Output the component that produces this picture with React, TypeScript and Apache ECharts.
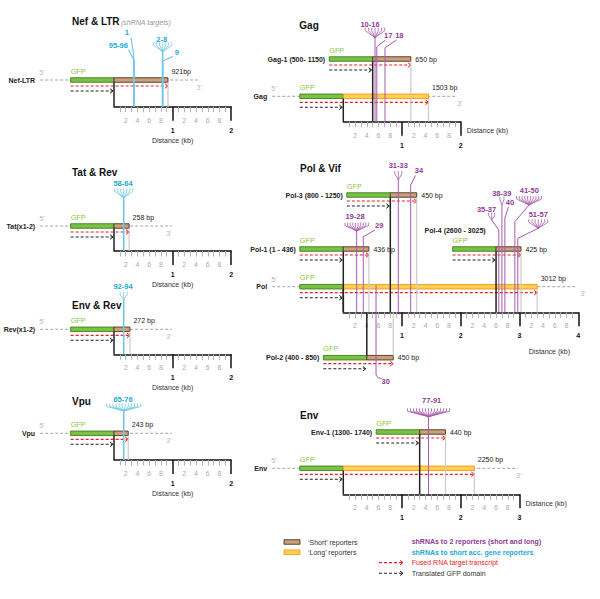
import React, { useEffect, useRef } from "react";
import * as echarts from "echarts";

const FONT = '"Liberation Sans", Arial, Helvetica, sans-serif';

// ---------------- data ----------------
const panelTitles = ["Nef & LTR", "Tat & Rev", "Env & Rev", "Vpu", "Gag", "Pol & Vif", "Env"];
const panelKbMax = [2, 2, 2, 2, 2, 4, 3];

const reporterNames = ["Nef-LTR", "Tat(x1-2)", "Rev(x1-2)", "Vpu", "Gag-1 (500- 1150)", "Gag", "Pol-3 (800 - 1250)", "Pol-1 (1 - 436)", "Pol-4 (2600 - 3025)", "Pol", "Pol-2 (400 - 850)", "Env-1 (1300- 1740)", "Env"];
const reporterPanel = [0, 1, 2, 3, 4, 4, 5, 5, 5, 5, 5, 6, 6];
const reporterStartKb = [0, 0, 0, 0, 0.5, 0, 0.8, 0, 2.6, 0, 0.4, 1.3, 0];
const reporterEndKb = [0.921, 0.258, 0.272, 0.243, 1.15, 1.45, 1.25, 0.436, 3.025, 3.3, 0.85, 1.74, 2.23];
const reporterBpLabels = ["921bp", "258 bp", "272 bp", "243 bp", "650 bp", "1503 bp", "450 bp", "436 bp", "425 bp", "3012 bp", "450 bp", "440 bp", "2250 bp"];
const reporterKinds = ["short", "short", "short", "short", "short", "long", "short", "short", "short", "long", "short", "short", "long"];
const gfpLengthKb = 0.74;

const shrnaLabels = ["1", "95-96", "2-8", "9", "58-64", "92-94", "65-76", "10-16", "17", "18", "31-33", "34", "19-28", "29", "30", "35-37", "38-39", "40", "41-50", "51-57", "77-91"];
const shrnaPanel = [0, 0, 0, 0, 1, 2, 3, 4, 4, 4, 5, 5, 5, 5, 5, 5, 5, 5, 5, 5, 6];
const shrnaPosKb = [0.34, 0.34, 0.83, 0.83, 0.166, 0.166, 0.166, 0.54, 0.57, 0.71, 0.936, 1.147, 0.228, 0.34, 0.557, 2.647, 2.7, 2.75, 2.92, 2.97, 1.45];

const legendSwatchLabels = ["\u2018Short\u2019 reporters", "\u2018Long\u2019 reporters"];
const legendTextLabels = ["shRNAs to 2 reporters (short and long)", "shRNAs to short acc. gene reporters", "Fused RNA target transcript", "Translated GFP domain"];
const axisName = "Distance (kb)";
const subtitle = "(shRNA targets)";

// ---------------- layout ----------------
const panelX0 = [114, 114, 114, 114, 343.3, 343.3, 343.3];
const panelPxPerKb = [58.6, 58.6, 58.6, 58.6, 58.75, 58.75, 58.75];
const panelRulerY = [106.7, 251, 354.3, 460, 121.7, 312.3, 494.3];
const panelTitlePos = [[72, 21], [72, 172.7], [72, 305.3], [72, 401], [299.3, 25], [300, 168.3], [300, 415]];
// where the "Distance (kb)" text sits for the right column: [dx from axis end, dy below ruler, align]
const panelAxisNamePos: any[] = [null, null, null, null, [6, 8.5, "left"], [-8.3, 38.7, "right"], [6, 9, "left"]];
const GRID_H = 100;
// row offset above ruler (px)
const rowUp = [26.7, 25, 25, 26.7, 62.7, 25.4, 117.3, 63.3, 63.3, 25.6, -45.4, 62.3, 26];
// backbone: [fromKb, toKb, 3' label dx]
const rowBackbone: any[] = [[-1.26, 1.47, -1], [-1.26, 0.985, -3], [-1.26, 0.985, -3], [-1.26, 0.985, -3], null, [-1.21, 1.93, 3], null, null, null, [-1.21, 3.96, 7], null, null, [-1.21, 2.97, 1]];
const rowNameAbove = [false, false, false, false, false, false, false, false, true, false, false, false, false];

const shrnaLayout: any[] = [
  { lx: -7.2, ly: 74.4, trunk: [46.7, 0], path: [[-2.9, 69.2], [-0.9, 56.7], [0, 46.7]] },
  { lx: -15.6, ly: 61, trunk: [46.7, 0], path: [[-5.4, 56.7], [0, 46.7]] },
  { lx: -0.9, ly: 67.7, trunk: [55, 0], fan: { cx: 0, cy: 55, ft: 64.4, hw: 9.2 } },
  { lx: 14.1, ly: 54.4, trunk: [45.7, 0], path: [[10.4, 50.2], [0, 45.7]] },
  { lx: -0.7, ly: 67.7, trunk: [53, 0], fan: { cx: 0, cy: 53, ft: 62.5, hw: 9 } },
  { lx: -0.7, ly: 67.6, trunk: [55, 0], fan: { cx: 0, cy: 55, ft: 62.5, hw: 3.5 } },
  { lx: -0.7, ly: 61, trunk: [49, 0], fan: { cx: 0, cy: 49, ft: 56.5, hw: 17 } },
  { lx: -5, ly: 97.7, trunk: [84, 0], fan: { cx: 0, cy: 84, ft: 94, hw: 9.7 } },
  { lx: 11.5, ly: 86.7, trunk: [75, 0], path: [[8.7, 81.7], [0, 75]] },
  { lx: 14.3, ly: 86.7, trunk: [74, 0], path: [[11.5, 81.7], [0, 74]] },
  { lx: 0, ly: 146.6, trunk: [132.3, 0], fan: { cx: 0, cy: 132.3, ft: 141.3, hw: 3.5 } },
  { lx: 8.3, ly: 141.6, trunk: [127.3, 0], path: [[4.8, 136.8], [0, 127.3]] },
  { lx: -1.7, ly: 95.6, trunk: [81.3, 0], fan: { cx: 0, cy: 81.3, ft: 89.6, hw: 11.7 } },
  { lx: 16, ly: 86.6, trunk: [75.6, 0], path: [[11.7, 82.3], [0, 75.6]] },
  { lx: 9.7, ly: -69.4, trunk: [27.3, -62.7], path: [[0, -62.7], [2, -65.5], [5.7, -66.2]] },
  { lx: -12.3, ly: 103, trunk: [82.3, 0], fan: { cx: -7.1, cy: 92.3, ft: 99.6, hw: 3 }, path: [[-7.1, 92.3], [0, 82.3]] },
  { lx: -0.2, ly: 119, trunk: [107.3, 0], fan: { cx: 0, cy: 107.3, ft: 115.6, hw: 2 } },
  { lx: 5.1, ly: 110, trunk: [94.3, 0], path: [[3.6, 105.3], [0, 94.3]] },
  { lx: 14.45, ly: 122.3, trunk: [90.6, 0], fan: { cx: 14.15, cy: 107.3, ft: 116.3, hw: 12.5 }, path: [[14.15, 107.3], [0, 90.6]] },
  { lx: 20.5, ly: 98, trunk: [74, 0], fan: { cx: 20.5, cy: 84, ft: 93, hw: 9.5 }, path: [[20.5, 84], [0, 74]] },
  { lx: 3.2, ly: 93.6, trunk: [77.6, 0], fan: { cx: 0, cy: 77.6, ft: 86, hw: 21 } },
];

// ---------------- styles ----------------
const C = {
  gfpFill: "#7cc242", gfpStroke: "#3d7f20", gfpText: "#8cc63f",
  shortFill: "#c9a07a", shortStroke: "#4e3421",
  longFill: "#ffd14f", longStroke: "#f7941e",
  red: "#ee1c24", black: "#222", backbone: "#999", prime: "#bbb",
  endLine: "#cacaca", text: "#222",
  cyanLine: "#6fc8e6", cyanText: "#1ba9d6",
  purpleLine: "#a85aab", purpleText: "#8f3a94",
};
const BAR_H = 4.5;

const txt = (x: number, y: number, text: string, o: any = {}) => ({
  type: "text", x, y, silent: true,
  style: { text, fill: o.fill || C.text, fontSize: o.size || 7, fontWeight: o.weight || "normal", fontStyle: o.italic ? "italic" : "normal", fontFamily: FONT, align: o.align || "left", verticalAlign: "middle" },
});
const ln = (x1: number, y1: number, x2: number, y2: number, stroke: string, lineWidth = 1, dash?: number[]) => ({
  type: "line", silent: true, shape: { x1, y1, x2, y2 }, style: { stroke, lineWidth, lineDash: dash || null, fill: "none" },
});
const pl = (points: number[][], stroke: string, lineWidth = 1) => ({
  type: "polyline", silent: true, shape: { points }, style: { stroke, lineWidth, fill: "none" },
});
const chevron = (x: number, y: number, stroke: string) => pl([[x - 3, y - 2.3], [x, y], [x - 3, y + 2.3]], stroke, 1);
const bar = (x1: number, x2: number, y: number, fill: string, stroke: string) => ({
  type: "rect", silent: true, shape: { x: x1, y: y - BAR_H / 2, width: x2 - x1, height: BAR_H }, style: { fill, stroke, lineWidth: 0.9 },
});

function reporterElements(ri: number, api: any) {
  const s = reporterStartKb[ri], e = reporterEndKb[ri], up = rowUp[ri];
  const [xs, y] = api.coord([s, up]);
  const [xe] = api.coord([e, up]);
  const [xg] = api.coord([s - gfpLengthKb, up]);
  const ch: any[] = [];
  const bb = rowBackbone[ri];
  if (bb) {
    const [xa] = api.coord([bb[0], up]);
    const [xb] = api.coord([bb[1], up]);
    ch.push(ln(xa, y, xb, y, C.backbone, 0.9, [3, 2]));
    ch.push(txt(xa - 1, y - 7.5, "5'", { fill: C.prime, size: 7.5 }));
    ch.push(txt(xb + bb[2], y + 7, "3'", { fill: C.prime, size: 7.5, align: "center" }));
    ch.push(txt(xa - 5, y, reporterNames[ri], { weight: "bold", align: "right" }));
    ch.push(txt(xe + 3.5, y - 8.5, reporterBpLabels[ri]));
  } else {
    if (rowNameAbove[ri]) ch.push(txt(xg - 28, y - 19, reporterNames[ri], { weight: "bold" }));
    else ch.push(txt(xg - 4, y, reporterNames[ri], { weight: "bold", align: "right" }));
    ch.push(txt(xe + 4.5, y, reporterBpLabels[ri]));
  }
  ch.push(bar(xg, xs, y, C.gfpFill, C.gfpStroke));
  const long = reporterKinds[ri] === "long";
  ch.push(bar(xs, xe, y, long ? C.longFill : C.shortFill, long ? C.longStroke : C.shortStroke));
  ch.push(txt(xg, y - 9, "GFP", { fill: C.gfpText, size: 7.3 }));
  ch.push(ln(xg, y + 6, xe - 0.5, y + 6, C.red, 1.2, [3, 2]));
  ch.push(chevron(xe, y + 6, C.red));
  ch.push(ln(xg, y + 11, xs - 1.5, y + 11, C.black, 1.1, [3, 2]));
  ch.push(chevron(xs - 1, y + 11, C.black));
  return { type: "group", children: ch };
}

function guideElements(ri: number, api: any) {
  const s = reporterStartKb[ri], e = reporterEndKb[ri], up = rowUp[ri];
  const [xs, y] = api.coord([s, up]);
  const [xe] = api.coord([e, up]);
  const [, yr] = api.coord([0, 0]);
  const yb = up > 0 ? y + BAR_H / 2 : y - BAR_H / 2;
  return {
    type: "group",
    children: [ln(xe, yb, xe, yr, C.endLine, 1.2), ln(xs, yb, xs, yr, C.black, 1.5)],
  };
}

function shrnaCount(label: string) {
  const m = label.split("-");
  return m.length === 2 ? Number(m[1]) - Number(m[0]) + 1 : 1;
}

function shrnaElements(si: number, api: any) {
  const L = shrnaLayout[si];
  const cyan = shrnaPanel[si] < 4;
  const line = cyan ? C.cyanLine : C.purpleLine;
  const lw = cyan ? 1.6 : 1;
  const [xt] = api.coord([shrnaPosKb[si], 0]);
  const P = (dx: number, u: number) => [xt + dx, api.coord([shrnaPosKb[si], u])[1]];
  const ch: any[] = [];
  const t0 = P(0, L.trunk[0]), t1 = P(0, L.trunk[1]);
  ch.push(ln(t0[0], t0[1], t1[0], t1[1], line, lw));
  if (L.path) ch.push(pl(L.path.map((p: number[]) => P(p[0], p[1])), line, cyan ? 1.2 : 1));
  const n = shrnaCount(shrnaLabels[si]);
  if (L.fan && n > 1) {
    const f = L.fan;
    for (let i = 0; i < n; i++) {
      const xi = f.cx - f.hw + (2 * f.hw * i) / (n - 1);
      ch.push(pl([P(xi, f.ft), P(xi, f.ft - 3), P(f.cx, f.cy)], line, 0.8));
    }
  }
  const lp = P(L.lx, L.ly);
  ch.push(txt(lp[0], lp[1], shrnaLabels[si], { fill: cyan ? C.cyanText : C.purpleText, weight: "bold", size: 7.5, align: "center" }));
  return { type: "group", children: ch };
}

function axisNameElements(p: number, api: any) {
  const pos = panelAxisNamePos[p];
  const [xEnd, yr] = api.coord([panelKbMax[p], 0]);
  return txt(xEnd + pos[0], yr + pos[1], axisName, { fill: "#333", align: pos[2] });
}

function buildOption() {
  const grid: any[] = [], xAxis: any[] = [], yAxis: any[] = [], series: any[] = [];
  panelTitles.forEach((_, p) => {
    const max = panelKbMax[p];
    const majors: number[] = [];
    const minors: number[] = [];
    const minorLbl: number[] = [];
    for (let k = 0; k < max; k++) {
      majors.push(k + 1);
      for (let t = 1; t <= 9; t++) {
        const v = Number((k + t / 10).toFixed(1));
        minors.push(v);
        if (t % 2 === 0) minorLbl.push(v);
      }
    }
    grid.push({ left: panelX0[p], top: panelRulerY[p] - GRID_H, width: max * panelPxPerKb[p], height: GRID_H, containLabel: false });
    const nameOpt = panelAxisNamePos[p]
      ? {}
      : { name: axisName, nameLocation: "middle", nameGap: 30, nameTextStyle: { fontSize: 7, color: "#333", fontFamily: FONT } };
    xAxis.push({
      type: "value", gridIndex: p, min: 0, max, interval: 1, position: "bottom", offset: 0,
      axisLine: { show: true, onZero: false, lineStyle: { color: "#111", width: 1.5 } },
      axisTick: { show: true, customValues: majors, length: 14, lineStyle: { color: "#111", width: 1.5 } },
      axisLabel: { show: true, customValues: majors, margin: 20, fontSize: 7, fontWeight: "bold", color: "#111", fontFamily: FONT, formatter: (v: number) => (v === 0 ? "" : String(v)) },
      splitLine: { show: false },
      ...nameOpt,
    });
    xAxis.push({
      type: "value", gridIndex: p, min: 0, max, interval: 0.1, position: "bottom", offset: 0,
      axisLine: { show: false, onZero: false },
      axisTick: { show: true, customValues: minors, length: 5.5, lineStyle: { color: "#b3b3b3", width: 1 } },
      axisLabel: { show: true, customValues: minorLbl, margin: 10, fontSize: 7, color: "#aaa", fontFamily: FONT, formatter: (v: number) => String(Math.round(v * 10) % 10) },
      splitLine: { show: false },
    });
    yAxis.push({ type: "value", gridIndex: p, min: 0, max: GRID_H, show: false });

    const rows = reporterPanel.map((q, i) => (q === p ? i : -1)).filter((i) => i >= 0);
    const rowData = rows.map((ri) => [reporterStartKb[ri], rowUp[ri], reporterEndKb[ri]]);
    series.push({
      type: "custom", name: "reporters" + p, xAxisIndex: 2 * p, yAxisIndex: p, z: 2, silent: true, clip: false,
      data: rowData, renderItem: (params: any, api: any) => reporterElements(rows[params.dataIndex], api),
    });
    series.push({
      type: "custom", name: "guides" + p, xAxisIndex: 2 * p, yAxisIndex: p, z: 3, silent: true, clip: false,
      data: rowData, renderItem: (params: any, api: any) => guideElements(rows[params.dataIndex], api),
    });
    const sh = shrnaPanel.map((q, i) => (q === p ? i : -1)).filter((i) => i >= 0);
    series.push({
      type: "custom", name: "shrna" + p, xAxisIndex: 2 * p, yAxisIndex: p, z: 4, silent: true, clip: false,
      data: sh.map((si) => [shrnaPosKb[si], 0]), renderItem: (params: any, api: any) => shrnaElements(sh[params.dataIndex], api),
    });
    if (panelAxisNamePos[p]) {
      series.push({
        type: "custom", name: "axisname" + p, xAxisIndex: 2 * p, yAxisIndex: p, z: 4, silent: true, clip: false,
        data: [[max, 0]], renderItem: (params: any, api: any) => axisNameElements(p, api),
      });
    }
  });

  const g: any[] = [];
  panelTitles.forEach((t, p) => g.push(txt(panelTitlePos[p][0], panelTitlePos[p][1], t, { weight: "bold", size: 10, fill: "#111" })));
  g.push(txt(121, 22, subtitle, { italic: true, fill: "#999", size: 7 }));
  // legend
  g.push(bar(284, 300, 542, C.shortFill, C.shortStroke));
  g.push(bar(284, 300, 552.3, C.longFill, C.longStroke));
  g.push(txt(308, 542, legendSwatchLabels[0], { fill: "#333" }));
  g.push(txt(308, 552.3, legendSwatchLabels[1], { fill: "#333" }));
  g.push(txt(411.7, 541.7, legendTextLabels[0], { fill: C.purpleText, weight: "bold" }));
  g.push(txt(411.7, 552.3, legendTextLabels[1], { fill: C.cyanText, weight: "bold" }));
  g.push(ln(379, 562.7, 402.5, 562.7, C.red, 1.2, [3, 2]));
  g.push(chevron(403, 562.7, C.red));
  g.push(txt(411.7, 562.7, legendTextLabels[2], { fill: C.red }));
  g.push(ln(379, 573.3, 402.5, 573.3, C.black, 1.1, [3, 2]));
  g.push(chevron(403, 573.3, C.black));
  g.push(txt(411.7, 573.3, legendTextLabels[3], { fill: "#333" }));

  return {
    animation: false,
    backgroundColor: "#fff",
    grid, xAxis, yAxis, series,
    graphic: { elements: g },
  };
}

export default function App() {
  const ref = useRef<HTMLDivElement>(null);
  useEffect(() => {
    const chart = echarts.init(ref.current as HTMLDivElement, null, { renderer: "svg" });
    chart.setOption(buildOption() as any);
    return () => chart.dispose();
  }, []);
  return <div ref={ref} style={{ position: "absolute", left: 0, top: 0, width: 600, height: 599, background: "#fff" }} />;
}
